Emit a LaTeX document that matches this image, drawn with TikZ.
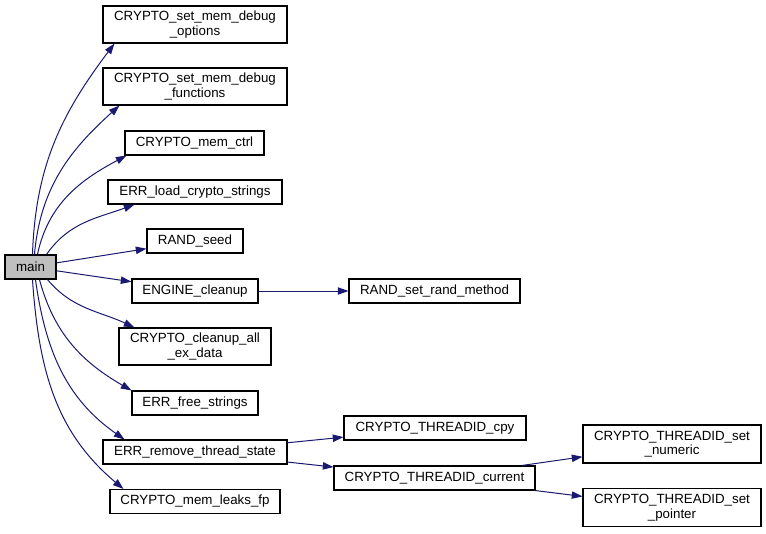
\documentclass[tikz,border=0pt]{standalone}
\usepackage{fontspec}
\setmainfont{Liberation Sans}
\usetikzlibrary{arrows.meta}
\definecolor{edgeblue}{HTML}{191970}
\definecolor{maingray}{HTML}{BFBFBF}
\begin{document}
\begin{tikzpicture}[x=0.75pt,y=0.75pt,
  box/.style 2 args={draw=black, line width=0.8pt, fill=white, inner sep=0pt, align=center,
    font=\fontsize{10}{11}\selectfont, minimum width=#1*0.75pt, minimum height=#2*0.75pt},
  call/.style={draw=edgeblue, line width=0.75pt, -{Triangle[length=8pt,width=5.5pt]}}]
\useasboundingbox (0,0) rectangle (766,533);
% nodes (y = 533 - image y)
\node[box={51}{24}, fill=maingray] (main) at (30.5,266) {main};
\node[box={184}{37}] (opt) at (195,508.5) {CRYPTO\_set\_mem\_debug\\\_options};
\node[box={184}{37}] (fun) at (195,446.5) {CRYPTO\_set\_mem\_debug\\\_functions};
\node[box={139}{24}] (memctrl) at (194.5,390) {CRYPTO\_mem\_ctrl};
\node[box={174}{24}] (errload) at (195,341) {ERR\_load\_crypto\_strings};
\node[box={96}{24}] (randseed) at (195,292) {RAND\_seed};
\node[box={126}{24}] (engine) at (195,242) {ENGINE\_cleanup};
\node[box={152}{37}] (cleanup) at (195,186.5) {CRYPTO\_cleanup\_all\\\_ex\_data};
\node[box={126}{24}] (errfree) at (195,130) {ERR\_free\_strings};
\node[box={184}{24}] (errremove) at (195,81) {ERR\_remove\_thread\_state};
\node[box={170}{24}] (leaks) at (195,31.5) {CRYPTO\_mem\_leaks\_fp};
\node[box={171}{24}] (randmeth) at (434.5,242) {RAND\_set\_rand\_method};
\node[box={182}{24}] (cpy) at (435,105) {CRYPTO\_THREADID\_cpy};
\node[box={201}{24}] (current) at (434.5,55) {CRYPTO\_THREADID\_current};
\node[box={178}{38}] (numeric) at (672,89) {CRYPTO\_THREADID\_set\\\_numeric};
\node[box={178}{38}] (pointer) at (672,25.5) {CRYPTO\_THREADID\_set\\\_pointer};
% edges
\draw[call] ([xshift=28*0.75pt]main.north west) to[out=88,in=233] ([xshift=12*0.75pt]opt.south west);
\draw[call] ([xshift=30*0.75pt]main.north west) to[out=85,in=222] ([xshift=17*0.75pt]fun.south west);
\draw[call] ([xshift=33*0.75pt]main.north west) to[out=78,in=208] ([xshift=2*0.75pt]memctrl.south west);
\draw[call] ([xshift=42*0.75pt]main.north west) to[out=55,in=200] ([xshift=27*0.75pt]errload.south west);
\draw[call] (main) -- (randseed);
\draw[call] (main) -- (engine);
\draw[call] ([xshift=43*0.75pt]main.south west) to[out=-50,in=155] ([xshift=16*0.75pt]cleanup.north west);
\draw[call] ([xshift=35*0.75pt]main.south west) to[out=-75,in=150] (errfree.north west);
\draw[call] ([xshift=31*0.75pt]main.south west) to[out=-82,in=145] ([xshift=22*0.75pt]errremove.north west);
\draw[call] ([xshift=28*0.75pt]main.south west) to[out=-86,in=140] ([xshift=14*0.75pt]leaks.north west);
\draw[call] (engine) -- (randmeth);
\draw[call] (errremove) -- (cpy);
\draw[call] (errremove) -- (current);
\draw[call] (current) -- (numeric);
\draw[call] (current) -- (pointer);
\end{tikzpicture}
\end{document}
